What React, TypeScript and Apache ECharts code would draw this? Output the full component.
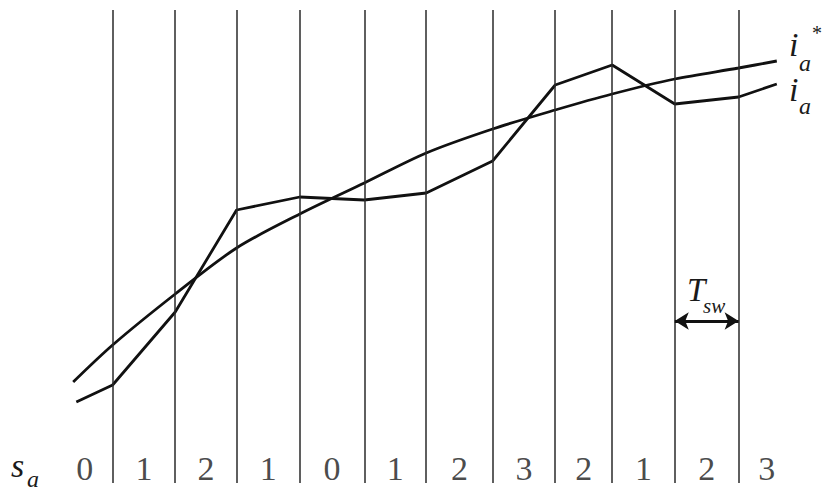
import React, { useEffect, useRef } from "react";
import * as echarts from "echarts";

// switching instants (in units of the switching period)
const switchT = [1.0, 2.0, 2.98, 3.99, 5.02, 6.01, 7.07, 8.07, 8.98, 9.98, 11.0];
// reference current i_a*
const refT = [0.37, ...switchT, 11.61];
const refI = [1.01, 1.38, 1.89, 2.35, 2.69, 3.0, 3.3, 3.54, 3.73, 3.89, 4.04, 4.15, 4.22];
// actual current i_a
const actT = [0.42, ...switchT, 11.61];
const actI = [0.81, 0.98, 1.71, 2.73, 2.86, 2.83, 2.9, 3.22, 3.98, 4.18, 3.79, 3.86, 3.99];
// switching states s_a per interval
const states = [0, 1, 2, 1, 0, 1, 2, 3, 2, 1, 2, 3];
const firstEdge = 0.11;
const lastEdge = 11.9;

const SERIF = "Liberation Serif";

export default function App() {
  const ref = useRef<HTMLDivElement>(null);
  useEffect(() => {
    if (!ref.current) return;
    const chart = echarts.init(ref.current, null, { renderer: "svg" });
    const edges = [firstEdge, ...switchT, lastEdge];
    const labelT = states.map((_, i) => (edges[i] + edges[i + 1]) / 2);
    const labelY = 0.15;
    const arrowY = 1.62;
    const txt = (text: string, x: number, y: number, size: number, italic = true) => ({
      type: "text",
      x,
      y,
      style: {
        text,
        fontSize: size,
        fontFamily: SERIF,
        fontStyle: italic ? "italic" : "normal",
        fill: "#1a1a1a",
        textAlign: "left",
        textVerticalAlign: "middle",
      },
      silent: true,
    });
    chart.setOption({
      animation: false,
      backgroundColor: "#fff",
      grid: { left: 0, right: 0, top: 10, bottom: 14 },
      xAxis: { type: "value", min: -0.799, max: 12.332, show: false },
      yAxis: { type: "value", min: 0, max: 4.73, show: false },
      series: [
        {
          name: "switch",
          type: "line",
          data: [],
          markLine: {
            silent: true,
            symbol: ["none", "none"],
            label: { show: false },
            lineStyle: { color: "#2a2a2a", width: 1.5, type: "solid" },
            data: switchT.map((t) => ({ xAxis: t })),
          },
        },
        {
          name: "Tsw",
          type: "line",
          data: [],
          markLine: {
            silent: true,
            symbol: ["arrow", "arrow"],
            symbolSize: [13, 14],
            label: { show: false },
            lineStyle: { color: "#111", width: 2.8, type: "solid" },
            data: [[{ coord: [switchT[9], arrowY] }, { coord: [switchT[10], arrowY] }]],
          },
        },
        {
          name: "i_a*",
          type: "line",
          smooth: 0.3,
          showSymbol: false,
          lineStyle: { color: "#111", width: 2.8 },
          data: refT.map((t, i) => [t, refI[i]]),
        },
        {
          name: "i_a",
          type: "line",
          showSymbol: false,
          lineStyle: { color: "#111", width: 2.8 },
          data: actT.map((t, i) => [t, actI[i]]),
        },
        {
          name: "s_a",
          type: "scatter",
          symbolSize: 0,
          silent: true,
          label: {
            show: true,
            position: "inside",
            formatter: (p: any) => String(p.value[2]),
            fontSize: 34,
            fontFamily: SERIF,
            color: "#1a1a1a",
          },
          data: labelT.map((t, i) => [t, labelY, states[i]]),
        },
      ],
      graphic: [
        txt("i", 789, 44, 34),
        txt("a", 799, 63, 24),
        txt("*", 812, 33, 20, false),
        txt("i", 789, 89, 34),
        txt("a", 799, 106, 24),
        txt("T", 687, 290, 33),
        txt("sw", 703, 306, 21),
        txt("s", 11, 465, 34),
        txt("a", 27, 479, 24),
      ],
    });
    return () => chart.dispose();
  }, []);
  return (
    <div
      ref={ref}
      style={{ position: "absolute", left: 0, top: 0, width: 822, height: 497, background: "#fff" }}
    />
  );
}
